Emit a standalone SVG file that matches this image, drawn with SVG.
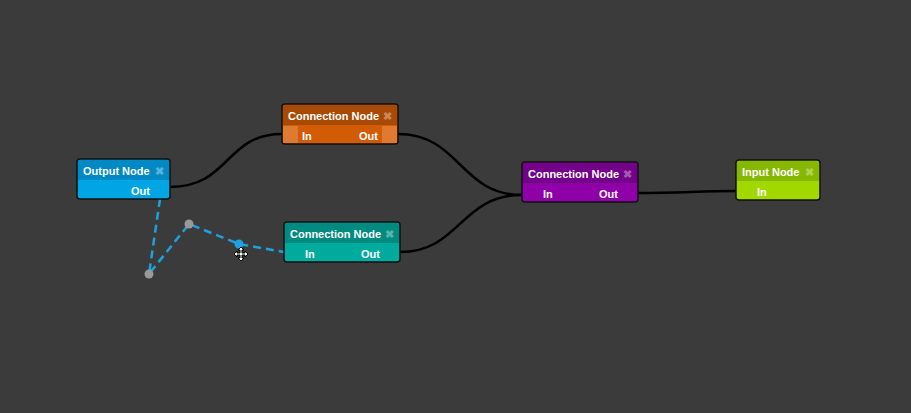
<svg xmlns="http://www.w3.org/2000/svg" width="911" height="413" viewBox="0 0 911 413">
<style>
text{font-family:"Liberation Sans",Arial,sans-serif;font-size:11px;font-weight:bold;fill:#fff}
.x{fill:#fff;opacity:.35;font-size:11px}
.b{stroke:#111;stroke-width:1.5}
.w{fill:none;stroke:#000;stroke-width:2.5}
</style>
<rect width="911" height="413" fill="#3b3b3b"/>
<g id="connectors">
<path class="w" d="M170,187 C230,187 225,134 282,134"/>
<path class="w" d="M398,134 C460,134 460,195 522,195"/>
<path class="w" d="M400,252 C460,252 460,195 522,195"/>
<path class="w" d="M638,193 C680,193 700,191 736,191"/>
<g fill="none" stroke="#1aa3e0" stroke-width="2.5" stroke-dasharray="8,5">
<path d="M160,199 L149,274 L189,224 L239,244 L284,252"/>
</g>
<circle cx="149" cy="274" r="4.5" fill="#999"/>
<circle cx="189" cy="224" r="4.5" fill="#999"/>
<circle cx="239" cy="244" r="4.5" fill="#1aa3e0"/>
<g transform="translate(241,254)" stroke="#000" stroke-width="1" fill="#fff">
<path d="M0,-7 L3,-4 L1,-4 L1,-1 L4,-1 L4,-3 L7,0 L4,3 L4,1 L1,1 L1,4 L3,4 L0,7 L-3,4 L-1,4 L-1,1 L-4,1 L-4,3 L-7,0 L-4,-3 L-4,-1 L-1,-1 L-1,-4 L-3,-4 Z"/>
</g>
</g>
<g id="output-node">
<rect class="b" x="77" y="159" width="93" height="40" rx="3" fill="#00a6e3"/>
<path d="M78,180 V163 a3,3 0 0 1 3,-3 H166 a3,3 0 0 1 3,3 V180 Z" fill="#0089c4"/>
<text x="83" y="175">Output Node</text><text class="x" x="155" y="175">✖</text>
<text x="131" y="195">Out</text>
</g>
<g id="connection-node-1">
<rect class="b" x="282" y="104" width="116" height="40" rx="3" fill="#d25c05"/>
<path d="M283,125 V108 a3,3 0 0 1 3,-3 H394 a3,3 0 0 1 3,3 V125 Z" fill="#a94a04"/>
<rect x="283" y="126" width="15" height="17" fill="#e07a30"/><rect x="382" y="126" width="15" height="17" fill="#e07a30"/>
<text x="288" y="120">Connection Node</text><text class="x" x="383" y="120">✖</text>
<text x="302" y="140">In</text><text x="359" y="140">Out</text>
</g>
<g id="connection-node-2">
<rect class="b" x="284" y="222" width="116" height="40" rx="3" fill="#00aa9c"/>
<path d="M285,243 V226 a3,3 0 0 1 3,-3 H396 a3,3 0 0 1 3,3 V243 Z" fill="#008a80"/>
<text x="290" y="238">Connection Node</text><text class="x" x="385" y="238">✖</text>
<text x="305" y="258">In</text><text x="361" y="258">Out</text>
</g>
<g id="connection-node-3">
<rect class="b" x="522" y="162" width="116" height="40" rx="3" fill="#9000a8"/>
<path d="M523,183 V166 a3,3 0 0 1 3,-3 H634 a3,3 0 0 1 3,3 V183 Z" fill="#720088"/>
<text x="528" y="178">Connection Node</text><text class="x" x="623" y="178">✖</text>
<text x="543" y="198">In</text><text x="599" y="198">Out</text>
</g>
<g id="input-node">
<rect class="b" x="736" y="160" width="84" height="40" rx="3" fill="#a0d800"/>
<path d="M737,181 V164 a3,3 0 0 1 3,-3 H816 a3,3 0 0 1 3,3 V181 Z" fill="#86b800"/>
<text x="742" y="176">Input Node</text><text class="x" x="805" y="176">✖</text>
<text x="757" y="196">In</text>
</g>
</svg>
